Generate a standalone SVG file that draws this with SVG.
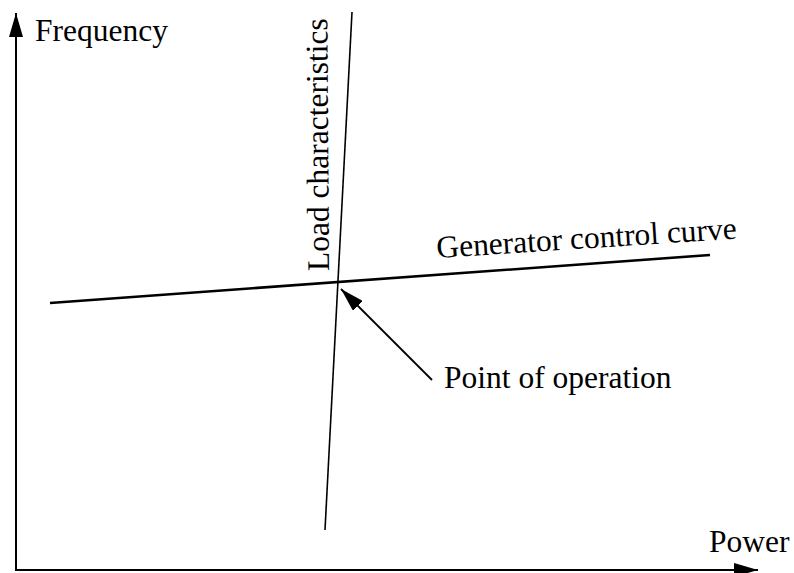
<svg xmlns="http://www.w3.org/2000/svg" width="794" height="573" viewBox="0 0 794 573">
  <style>
    .lbl { font-family: "Liberation Serif", "Times New Roman", serif; font-size: 31.5px; fill: #000; }
    .ln { stroke: #000; fill: none; }
  </style>
  <defs>
    <marker id="head" viewBox="0 0 24 14" refX="24" refY="7" markerWidth="24" markerHeight="14" markerUnits="userSpaceOnUse" orient="auto">
      <path d="M0,0 L24,7 L0,14 Z" fill="#000"/>
    </marker>
  </defs>
  <rect width="794" height="573" fill="#fff"/>

  <!-- axes -->
  <g id="axes">
    <line class="ln" x1="16" y1="571" x2="16" y2="13" stroke-width="2" marker-end="url(#head)"/>
    <line class="ln" x1="15" y1="570" x2="758" y2="570" stroke-width="2" marker-end="url(#head)"/>
    <text class="lbl" x="35" y="41">Frequency</text>
    <text class="lbl" x="709" y="552">Power</text>
  </g>

  <!-- curves -->
  <g id="load-characteristics">
    <line class="ln" x1="325" y1="530" x2="352" y2="12" stroke-width="1.6"/>
    <text class="lbl" transform="translate(329,271) rotate(-90.4)">Load characteristics</text>
  </g>
  <g id="generator-control-curve">
    <line class="ln" x1="50" y1="303" x2="710" y2="255" stroke-width="2.6"/>
    <text class="lbl" transform="translate(437,258) rotate(-3.7)">Generator control curve</text>
  </g>

  <!-- connectors -->
  <g id="connectors">
    <line class="ln" x1="432" y1="380" x2="341" y2="289" stroke-width="1.8" marker-end="url(#head)"/>
  </g>

  <g id="point-of-operation">
    <text class="lbl" x="444" y="388">Point of operation</text>
  </g>
</svg>
